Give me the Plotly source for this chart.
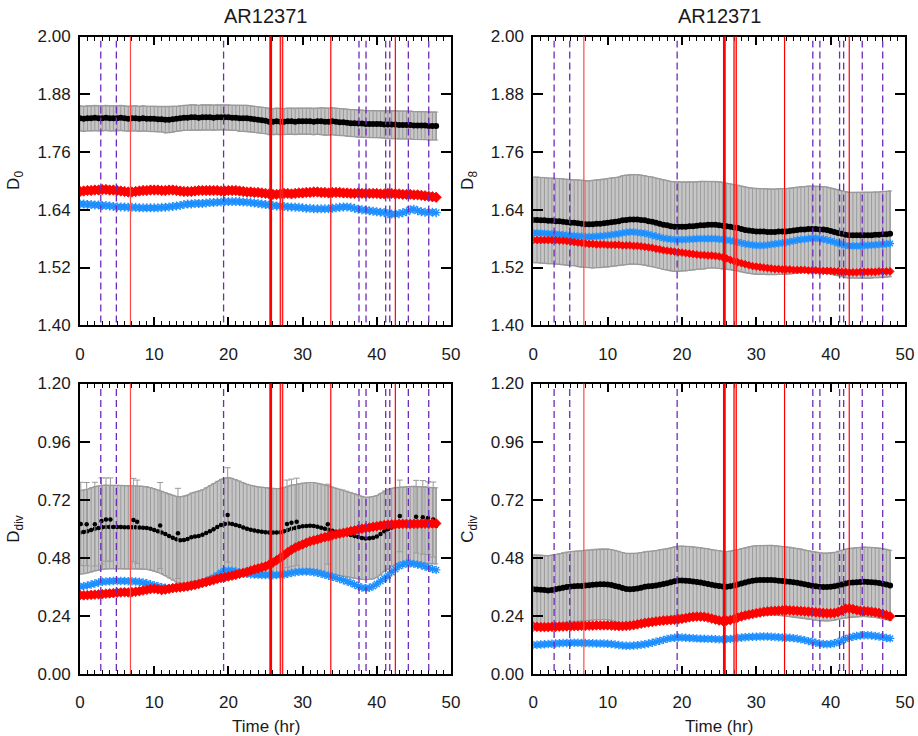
import numpy as np
import plotly.graph_objects as go

# Observation cadence: hours since the start of the sequence
time_hr = np.round(np.arange(0, 48.01, 0.5), 2)

# ---- D0 (fractal dimension) ----
d0_black = [1.830,1.829,1.830,1.830,1.831,1.830,1.830,1.831,1.830,1.830,
            1.830,1.831,1.830,1.829,1.830,1.830,1.829,1.830,1.829,1.829,
            1.829,1.828,1.828,1.827,1.827,1.828,1.829,1.830,1.831,1.831,
            1.832,1.832,1.831,1.832,1.832,1.832,1.831,1.832,1.832,1.832,
            1.832,1.831,1.831,1.830,1.830,1.830,1.829,1.828,1.827,1.826,
            1.825,1.823,1.823,1.824,1.823,1.823,1.824,1.824,1.823,1.824,
            1.824,1.824,1.824,1.823,1.824,1.824,1.823,1.823,1.824,1.823,
            1.822,1.822,1.821,1.820,1.820,1.819,1.819,1.818,1.818,1.818,
            1.818,1.818,1.817,1.817,1.817,1.817,1.816,1.816,1.816,1.816,
            1.815,1.815,1.815,1.815,1.814,1.814,1.814]
d0_err = [0.026]*10 + [0.026]*10 + \
         [0.026,0.026,0.026,0.027,0.027,0.027,0.026,0.026,0.026,0.026] + \
         [0.026]*10 + \
         [0.026,0.026,0.026,0.027,0.027,0.027,0.027,0.027,0.027,0.027] + \
         [0.027]*10 + \
         [0.027,0.027,0.027,0.027,0.027,0.028,0.028,0.028,0.028,0.028] + \
         [0.028]*10 + \
         [0.028,0.028,0.028,0.029,0.029,0.029,0.029,0.029,0.029,0.029] + \
         [0.029]*7
d0_red = [1.678,1.679,1.680,1.680,1.681,1.681,1.682,1.682,1.681,1.681,
          1.680,1.679,1.678,1.677,1.677,1.678,1.679,1.680,1.680,1.681,
          1.681,1.681,1.680,1.680,1.681,1.681,1.680,1.679,1.678,1.678,
          1.678,1.679,1.680,1.680,1.680,1.680,1.680,1.680,1.679,1.679,
          1.680,1.680,1.680,1.679,1.678,1.677,1.677,1.676,1.676,1.675,
          1.674,1.673,1.672,1.672,1.673,1.674,1.674,1.673,1.674,1.675,
          1.675,1.676,1.676,1.677,1.677,1.676,1.676,1.675,1.676,1.676,
          1.676,1.675,1.675,1.674,1.674,1.675,1.674,1.674,1.674,1.674,
          1.674,1.673,1.673,1.674,1.674,1.673,1.673,1.672,1.672,1.672,
          1.671,1.671,1.670,1.669,1.668,1.667,1.666]
d0_blue = [1.652,1.652,1.651,1.651,1.650,1.650,1.649,1.649,1.648,1.647,
           1.646,1.646,1.646,1.645,1.645,1.645,1.644,1.644,1.644,1.644,
           1.644,1.644,1.645,1.645,1.646,1.647,1.648,1.649,1.651,1.652,
           1.652,1.653,1.653,1.653,1.654,1.655,1.655,1.656,1.656,1.657,
           1.657,1.657,1.657,1.657,1.656,1.656,1.655,1.654,1.653,1.652,
           1.651,1.650,1.649,1.648,1.648,1.647,1.646,1.646,1.645,1.645,
           1.644,1.643,1.643,1.642,1.642,1.642,1.642,1.642,1.643,1.644,
           1.645,1.646,1.646,1.645,1.643,1.641,1.640,1.639,1.638,1.637,
           1.636,1.635,1.634,1.632,1.631,1.631,1.632,1.634,1.636,1.640,
           1.641,1.638,1.636,1.635,1.634,1.635,1.634]

# ---- D8 ----
d8_black = [1.619,1.619,1.618,1.618,1.617,1.617,1.616,1.616,1.615,1.614,
            1.613,1.613,1.612,1.611,1.610,1.610,1.610,1.611,1.611,1.612,
            1.613,1.614,1.615,1.616,1.618,1.619,1.620,1.620,1.620,1.619,
            1.618,1.616,1.615,1.613,1.611,1.609,1.608,1.606,1.605,1.605,
            1.605,1.605,1.606,1.606,1.607,1.608,1.608,1.609,1.609,1.609,
            1.608,1.607,1.606,1.605,1.603,1.602,1.600,1.598,1.597,1.596,
            1.595,1.595,1.595,1.594,1.594,1.594,1.595,1.595,1.595,1.596,
            1.597,1.598,1.599,1.599,1.600,1.600,1.600,1.599,1.599,1.598,
            1.596,1.594,1.592,1.590,1.588,1.587,1.587,1.587,1.587,1.587,
            1.587,1.587,1.588,1.588,1.589,1.589,1.590]
d8_err = [0.089]*10 + \
         [0.089,0.089,0.090,0.090,0.090,0.090,0.091,0.091,0.091,0.091] + \
         [0.092,0.092,0.092,0.092,0.093,0.093,0.093,0.093,0.093,0.093] + \
         [0.093]*10 + \
         [0.092,0.092,0.092,0.091,0.091,0.091,0.091,0.090,0.090,0.090] + \
         [0.090,0.090,0.089,0.089,0.089,0.089,0.089,0.089,0.089,0.089] + \
         [0.089]*37
d8_red = [1.577,1.577,1.577,1.577,1.577,1.577,1.577,1.576,1.576,1.575,
          1.574,1.573,1.572,1.571,1.570,1.569,1.569,1.568,1.568,1.568,
          1.567,1.567,1.567,1.567,1.566,1.566,1.566,1.565,1.565,1.564,
          1.563,1.562,1.561,1.559,1.558,1.556,1.555,1.554,1.553,1.552,
          1.551,1.550,1.549,1.548,1.547,1.546,1.546,1.545,1.545,1.544,
          1.543,1.541,1.539,1.536,1.533,1.531,1.529,1.527,1.525,1.523,
          1.522,1.521,1.520,1.519,1.518,1.517,1.517,1.516,1.516,1.516,
          1.515,1.515,1.515,1.515,1.514,1.514,1.514,1.513,1.513,1.513,
          1.513,1.512,1.512,1.511,1.511,1.510,1.510,1.510,1.511,1.511,
          1.511,1.511,1.511,1.512,1.512,1.512,1.512]
d8_blue = [1.592,1.592,1.591,1.591,1.590,1.590,1.589,1.589,1.588,1.587,
           1.586,1.586,1.585,1.585,1.584,1.584,1.584,1.585,1.585,1.586,
           1.587,1.588,1.589,1.590,1.592,1.593,1.594,1.594,1.593,1.592,
           1.591,1.589,1.587,1.585,1.583,1.581,1.580,1.579,1.578,1.578,
           1.578,1.578,1.579,1.579,1.580,1.580,1.580,1.580,1.580,1.580,
           1.579,1.578,1.577,1.576,1.574,1.573,1.571,1.569,1.568,1.567,
           1.566,1.566,1.566,1.567,1.568,1.569,1.570,1.571,1.572,1.574,
           1.575,1.577,1.578,1.579,1.580,1.581,1.581,1.580,1.579,1.577,
           1.575,1.573,1.570,1.568,1.566,1.565,1.565,1.565,1.565,1.566,
           1.566,1.567,1.567,1.568,1.568,1.569,1.570]

# ---- D_div ----
ddiv_black = [0.585,0.587,0.590,0.595,0.600,0.603,0.606,0.607,0.607,0.607,
              0.607,0.607,0.606,0.606,0.606,0.606,0.605,0.604,0.603,0.600,
              0.595,0.590,0.585,0.578,0.570,0.563,0.557,0.553,0.554,0.558,
              0.565,0.568,0.570,0.575,0.582,0.590,0.598,0.607,0.615,0.620,
              0.622,0.620,0.616,0.611,0.605,0.600,0.596,0.593,0.590,0.588,
              0.586,0.585,0.584,0.585,0.586,0.590,0.595,0.600,0.603,0.607,
              0.610,0.611,0.612,0.611,0.608,0.604,0.600,0.596,0.592,0.588,
              0.585,0.582,0.578,0.574,0.570,0.566,0.562,0.560,0.561,0.563,
              0.568,0.578,0.590,0.598,0.605,0.611,0.615,0.617,0.618,0.618,
              0.617,0.616,0.615,0.615,0.614,0.613,0.612]
ddiv_err = [0.173,0.173,0.173,0.174,0.174,0.174,0.173,0.173,0.172,0.172,
            0.172,0.172,0.172,0.172,0.171,0.171,0.171,0.171,0.171,0.170,
            0.170,0.170,0.170,0.171,0.173,0.175,0.177,0.179,0.180,0.181,
            0.182,0.183,0.185,0.186,0.187,0.188,0.189,0.189,0.189,0.189,
            0.189,0.188,0.187,0.186,0.185,0.184,0.183,0.183,0.183,0.183,
            0.183,0.182,0.182,0.181,0.181,0.180,0.180,0.180,0.179,0.179,
            0.179,0.179,0.179,0.180,0.180,0.181,0.181,0.181,0.180,0.179,
            0.178,0.178,0.177,0.176,0.175,0.173,0.171,0.170,0.170,0.170,
            0.169,0.168,0.166,0.165,0.162,0.159,0.156,0.155,0.156,0.157,
            0.158,0.158,0.158,0.158,0.157,0.157,0.157]
ddiv_red = [0.326,0.325,0.326,0.327,0.328,0.329,0.330,0.332,0.333,0.334,
            0.336,0.337,0.338,0.337,0.338,0.340,0.342,0.345,0.348,0.351,
            0.352,0.350,0.347,0.349,0.352,0.355,0.357,0.358,0.360,0.362,
            0.365,0.368,0.372,0.376,0.380,0.384,0.388,0.393,0.397,0.400,
            0.403,0.406,0.410,0.414,0.418,0.422,0.427,0.432,0.436,0.440,
            0.445,0.452,0.460,0.470,0.480,0.490,0.503,0.513,0.522,0.529,
            0.535,0.542,0.548,0.552,0.556,0.561,0.565,0.569,0.573,0.577,
            0.580,0.583,0.586,0.590,0.593,0.597,0.600,0.603,0.605,0.608,
            0.610,0.613,0.615,0.617,0.618,0.619,0.620,0.620,0.620,0.620,
            0.620,0.620,0.621,0.621,0.621,0.622,0.622]
ddiv_blue = [0.361,0.363,0.366,0.370,0.374,0.378,0.381,0.382,0.383,0.384,
             0.384,0.384,0.384,0.383,0.383,0.382,0.381,0.378,0.375,0.371,
             0.367,0.363,0.359,0.356,0.354,0.354,0.355,0.357,0.359,0.361,
             0.364,0.368,0.372,0.377,0.382,0.390,0.398,0.407,0.418,0.426,
             0.428,0.427,0.424,0.420,0.416,0.414,0.412,0.411,0.410,0.409,
             0.409,0.409,0.408,0.409,0.410,0.411,0.414,0.417,0.420,0.422,
             0.423,0.423,0.422,0.420,0.418,0.414,0.410,0.406,0.402,0.397,
             0.392,0.387,0.382,0.377,0.370,0.363,0.357,0.354,0.356,0.362,
             0.372,0.383,0.395,0.407,0.420,0.433,0.445,0.452,0.457,0.457,
             0.455,0.452,0.449,0.444,0.439,0.434,0.430]
# isolated D_div frames lying off the main track
ddiv_out_t = [0.1, 0.9, 2.0, 2.9, 3.5, 4.1, 7.2, 7.7, 10.8, 13.2, 19.9,
              27.9, 28.5, 29.2, 33.4, 43.1, 45.3, 46.2, 46.9, 47.6]
ddiv_out_v = [0.620, 0.619, 0.619, 0.632, 0.638, 0.638, 0.636, 0.629, 0.613,
              0.581, 0.657, 0.620, 0.625, 0.629, 0.619, 0.653, 0.650, 0.647,
              0.644, 0.638]
ddiv_out_e = [0.172, 0.172, 0.173, 0.178, 0.172, 0.172, 0.172, 0.172, 0.178,
              0.186, 0.195, 0.181, 0.180, 0.180, 0.165, 0.148, 0.150, 0.152,
              0.150, 0.155]

# ---- C_div ----
cdiv_black = [0.350,0.349,0.348,0.347,0.345,0.347,0.350,0.353,0.356,0.359,
              0.361,0.362,0.363,0.364,0.366,0.367,0.369,0.370,0.371,0.371,
              0.370,0.368,0.364,0.360,0.355,0.351,0.350,0.351,0.353,0.356,
              0.360,0.362,0.364,0.366,0.369,0.372,0.375,0.379,0.383,0.386,
              0.386,0.385,0.384,0.382,0.380,0.378,0.375,0.372,0.369,0.366,
              0.363,0.361,0.360,0.362,0.366,0.370,0.374,0.378,0.382,0.385,
              0.387,0.388,0.388,0.388,0.388,0.387,0.385,0.384,0.382,0.381,
              0.379,0.377,0.374,0.371,0.368,0.365,0.362,0.360,0.359,0.359,
              0.360,0.362,0.366,0.370,0.374,0.377,0.378,0.379,0.380,0.381,
              0.380,0.379,0.378,0.376,0.373,0.370,0.366]
cdiv_err = [0.142,0.142,0.143,0.143,0.143,0.144,0.144,0.144,0.145,0.145,
            0.145,0.145,0.145,0.145,0.146,0.146,0.146,0.146,0.146,0.146,
            0.146,0.146,0.147,0.147,0.147,0.147,0.147,0.147,0.146,0.146,
            0.145,0.145,0.144,0.144,0.143,0.143,0.142,0.142,0.142,0.142,
            0.142,0.142,0.143,0.143,0.143,0.144,0.144,0.145,0.145,0.145,
            0.146,0.146,0.146,0.145,0.145,0.144,0.144,0.143,0.143,0.143,
            0.143,0.143,0.143,0.143,0.143,0.143,0.143,0.143,0.143,0.143,
            0.142,0.142,0.142,0.141,0.141,0.140,0.140,0.140,0.140,0.140,
            0.140,0.140,0.141,0.141,0.142,0.142,0.142,0.143,0.143,0.143,
            0.143,0.144,0.144,0.144,0.145,0.145,0.145]
cdiv_red = [0.196,0.195,0.194,0.194,0.194,0.195,0.195,0.196,0.196,0.197,
            0.197,0.198,0.198,0.199,0.199,0.200,0.200,0.201,0.201,0.201,
            0.201,0.200,0.199,0.198,0.198,0.199,0.200,0.202,0.205,0.208,
            0.211,0.213,0.215,0.217,0.219,0.221,0.222,0.223,0.224,0.226,
            0.228,0.231,0.234,0.236,0.237,0.237,0.236,0.233,0.229,0.225,
            0.221,0.219,0.220,0.223,0.228,0.233,0.238,0.242,0.245,0.248,
            0.251,0.254,0.257,0.259,0.260,0.261,0.262,0.263,0.264,0.263,
            0.262,0.261,0.260,0.259,0.258,0.257,0.255,0.254,0.252,0.251,
            0.251,0.252,0.256,0.263,0.270,0.271,0.268,0.264,0.261,0.260,
            0.259,0.257,0.255,0.252,0.248,0.243,0.238]
cdiv_blue = [0.120,0.121,0.122,0.123,0.124,0.125,0.126,0.127,0.128,0.128,
             0.129,0.129,0.129,0.128,0.128,0.127,0.127,0.126,0.126,0.126,
             0.125,0.124,0.122,0.120,0.118,0.117,0.117,0.118,0.119,0.121,
             0.123,0.126,0.129,0.133,0.137,0.141,0.145,0.148,0.150,0.151,
             0.151,0.150,0.149,0.148,0.147,0.146,0.146,0.145,0.145,0.144,
             0.143,0.143,0.144,0.145,0.147,0.149,0.151,0.152,0.153,0.154,
             0.154,0.155,0.155,0.155,0.154,0.153,0.152,0.151,0.150,0.150,
             0.148,0.146,0.143,0.140,0.136,0.133,0.129,0.126,0.124,0.123,
             0.124,0.127,0.132,0.138,0.145,0.150,0.154,0.157,0.159,0.160,
             0.160,0.159,0.157,0.155,0.152,0.149,0.147]

# Event markers (hours)
flare_times = [6.8, 25.7, 27.0, 27.3, 33.8, 42.5]
flare_widths = [1.2, 2.8, 1.5, 1.5, 1.2, 1.2]
flare_colors = ["#ff4a4a", "#ff0000", "#ff2020", "#ff2020", "#ff0000", "#ff0000"]
cme_times = [2.8, 4.9, 19.35, 37.6, 38.55, 41.2, 41.75, 44.25, 47.0]

top_ticks = [1.40, 1.52, 1.64, 1.76, 1.88, 2.00]
bottom_ticks = [0.00, 0.24, 0.48, 0.72, 0.96, 1.20]
x_ticks = [0, 10, 20, 30, 40, 50]

W, H = 918, 736
FONT = "Liberation Sans, Arial, Helvetica, sans-serif"
GRAY_FILL = "#c6c6c6"
GRAY_BAR = "#9a9a9a"
BLUE = "#1e8fff"
RED = "#ff0000"
PURPLE = "#6f2ab8"

left_dom = [80 / W, 451 / W]
right_dom = [533.3 / W, 905 / W]
top_dom = [1 - 325.3 / H, 1 - 36.5 / H]
bot_dom = [1 - 674 / H, 1 - 383.5 / H]

panels = [
    dict(n=1, xd=left_dom, yd=top_dom, mean=d0_black, err=d0_err, red=d0_red,
         blue=d0_blue, rng=[1.40, 2.00], ticks=top_ticks,
         label="D<sub>0</sub>", title=True, xtitle=False, lx=15,
         rsize=8, bsize=7.5),
    dict(n=2, xd=right_dom, yd=top_dom, mean=d8_black, err=d8_err, red=d8_red,
         blue=d8_blue, rng=[1.40, 2.00], ticks=top_ticks,
         label="D<sub>8</sub>", title=True, xtitle=False, lx=469,
         rsize=6, bsize=6.5),
    dict(n=3, xd=left_dom, yd=bot_dom, mean=ddiv_black, err=ddiv_err,
         red=ddiv_red, blue=ddiv_blue, rng=[0.0, 1.20], ticks=bottom_ticks,
         label="D<sub>div</sub>", title=False, xtitle=True, lx=15,
         out=(ddiv_out_t, ddiv_out_v, ddiv_out_e), rsize=7.5, bsize=7),
    dict(n=4, xd=right_dom, yd=bot_dom, mean=cdiv_black, err=cdiv_err,
         red=cdiv_red, blue=cdiv_blue, rng=[0.0, 1.20], ticks=bottom_ticks,
         label="C<sub>div</sub>", title=False, xtitle=True, lx=469,
         rsize=7.5, bsize=7),
]

fig = go.Figure()
shapes = []
annotations = []
t = list(time_hr)

for p in panels:
    n = p["n"]
    xa = "x" if n == 1 else f"x{n}"
    ya = "y" if n == 1 else f"y{n}"
    upper = [m + e for m, e in zip(p["mean"], p["err"])]
    lower = [m - e for m, e in zip(p["mean"], p["err"])]
    black_size = 4.5 if "out" in p else 6

    # shaded uncertainty envelope
    fig.add_trace(go.Scatter(
        x=t + t[::-1], y=upper + lower[::-1], xaxis=xa, yaxis=ya,
        mode="lines", fill="toself", fillcolor=GRAY_FILL,
        line=dict(color=GRAY_BAR, width=1.2), hoverinfo="skip"))
    # mean with individual error bars
    fig.add_trace(go.Scatter(
        x=t, y=p["mean"], xaxis=xa, yaxis=ya, mode="markers",
        marker=dict(color="black", size=black_size, symbol="circle"),
        error_y=dict(type="data", array=p["err"], color=GRAY_BAR,
                     thickness=1, width=2)))
    if "out" in p:
        ot, ov, oe = p["out"]
        fig.add_trace(go.Scatter(
            x=ot, y=ov, xaxis=xa, yaxis=ya, mode="markers",
            marker=dict(color="black", size=4.5),
            error_y=dict(type="data", array=oe, color=GRAY_BAR,
                         thickness=1, width=3)))
    fig.add_trace(go.Scatter(
        x=t, y=p["blue"], xaxis=xa, yaxis=ya, mode="markers",
        marker=dict(symbol="asterisk-open", size=p["bsize"], color=BLUE,
                    line=dict(color=BLUE, width=1.4))))
    fig.add_trace(go.Scatter(
        x=t, y=p["red"], xaxis=xa, yaxis=ya, mode="markers",
        marker=dict(symbol="diamond", size=p["rsize"], color=RED,
                    line=dict(color=RED, width=0.8))))

    axis_common = dict(
        showline=True, linewidth=2, linecolor="black", mirror="allticks",
        ticks="inside", tickcolor="black", tickwidth=1.5, showgrid=False,
        zeroline=False, automargin=False,
        tickfont=dict(family=FONT, size=17, color="#1a1a1a"))
    fig.layout[f"xaxis{'' if n == 1 else n}"] = dict(
        domain=p["xd"], anchor=ya, range=[0, 50], tickvals=x_ticks,
        ticklen=8, ticklabelstandoff=12,
        minor=dict(dtick=1, ticks="inside", ticklen=4, tickcolor="black",
                   tickwidth=1.2, showgrid=False),
        **axis_common)
    fig.layout[f"yaxis{'' if n == 1 else n}"] = dict(
        domain=p["yd"], anchor=xa, range=p["rng"], tickvals=p["ticks"],
        tickformat=".2f", ticklen=10, ticklabelstandoff=4, **axis_common)

    for ft, fw, fc in zip(flare_times, flare_widths, flare_colors):
        shapes.append(dict(type="line", xref=xa, yref=f"{ya} domain",
                           x0=ft, x1=ft, y0=0, y1=1, layer="above",
                           line=dict(color=fc, width=fw)))
    for ct in cme_times:
        shapes.append(dict(type="line", xref=xa, yref=f"{ya} domain",
                           x0=ct, x1=ct, y0=0.01, y1=0.985, layer="above",
                           line=dict(color=PURPLE, width=1.3, dash="7px,4px")))

    xc = (p["xd"][0] + p["xd"][1]) / 2
    yc = (p["yd"][0] + p["yd"][1]) / 2
    annotations.append(dict(
        text=p["label"], x=p["lx"] / W, y=yc, xref="paper", yref="paper",
        xanchor="center", yanchor="middle", textangle=-90, showarrow=False,
        font=dict(family=FONT, size=17, color="#1a1a1a")))
    if p["title"]:
        annotations.append(dict(
            text="AR12371", x=xc, y=1 - 16 / H, xref="paper", yref="paper",
            xanchor="center", yanchor="middle", showarrow=False,
            font=dict(family=FONT, size=20, color="#1a1a1a")))
    if p["xtitle"]:
        annotations.append(dict(
            text="Time (hr)", x=xc, y=1 - 726 / H, xref="paper", yref="paper",
            xanchor="center", yanchor="middle", showarrow=False,
            font=dict(family=FONT, size=17, color="#1a1a1a")))

fig.update_layout(
    width=W, height=H, margin=dict(l=0, r=0, t=0, b=0, autoexpand=False),
    paper_bgcolor="white", plot_bgcolor="white", showlegend=False,
    shapes=shapes, annotations=annotations)

fig.write_html("out.html")
